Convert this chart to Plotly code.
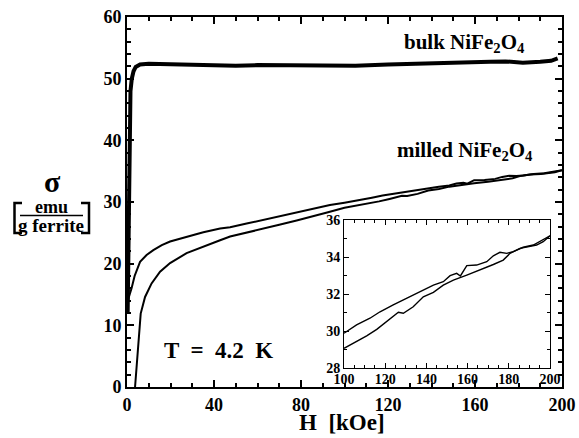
import plotly.graph_objects as go

# ---------------- data ----------------
bulk_H = [0.3, 0.8, 1.1, 1.3, 1.6, 2.2, 3.0, 4.0, 6.0, 10, 20, 30, 40, 50, 60,
          75, 90, 105, 120, 136, 150, 160, 167, 174, 182, 190, 195, 198]
bulk_sigma = [12.0, 30.0, 40.0, 45.0, 48.0, 50.0, 51.2, 51.9, 52.3, 52.4, 52.3, 52.3,
              52.2, 52.1, 52.2, 52.2, 52.1, 52.1, 52.3, 52.4, 52.5, 52.6, 52.75, 52.8,
              52.6, 52.75, 52.9, 53.3]

# milled, upper (descending-field) branch
up_H = [0, 0.8, 2.1, 3.5, 6, 9, 12.1, 16, 19.8, 27.4, 35.1, 42.8, 47.4, 55, 62.7,
        70, 78, 86, 93.3, 100, 106.1, 112.6, 117.5, 123.9, 130.4, 136.9, 143.4,
        148.2, 151.5, 154.7, 156.5, 159.6, 164.4, 169.3, 172.5, 175.7, 179,
        182.2, 187, 191.9, 195.1, 200]
up_sigma = [13.0, 14.5, 16.0, 18.0, 20.3, 21.4, 22.2, 23.0, 23.6, 24.4, 25.1, 25.7,
            25.9, 26.5, 27.1, 27.7, 28.4, 29.0, 29.5, 29.89, 30.34, 30.70, 31.05,
            31.42, 31.78, 32.13, 32.49, 32.67, 33.0, 33.12, 32.98, 33.54, 33.57,
            33.75, 34.07, 34.26, 34.2, 34.29, 34.53, 34.65, 34.83, 35.15]

# milled, lower (virgin / ascending-field) branch
low_H = [3.7, 4.6, 5.2, 6.3, 8.3, 11.3, 15.2, 19.8, 27.4, 35.1, 42.8, 47.4, 55,
         63, 70, 78, 85, 92, 100, 106.1, 111, 115.9, 120.7, 126.4, 128.8, 133.6,
         138.5, 143.4, 148.2, 153.1, 159.6, 166, 172.5, 177.3, 180.6, 185.4,
         190.3, 193.5, 196.7, 200]
low_sigma = [0.0, 4.0, 7.6, 11.9, 14.6, 16.8, 18.7, 20.1, 21.7, 22.8, 23.8, 24.4,
             25.0, 25.7, 26.3, 27.0, 27.6, 28.3, 29.08, 29.44, 29.75, 30.1, 30.5,
             31.02, 30.97, 31.32, 31.86, 32.1, 32.49, 32.76, 33.03, 33.3, 33.6,
             33.84, 34.2, 34.47, 34.56, 34.65, 34.83, 35.15]

main_x_ticks = [0, 40, 80, 120, 160, 200]
main_y_ticks = [0, 10, 20, 30, 40, 50, 60]
inset_x_ticks = [100, 120, 140, 160, 180, 200]
inset_y_ticks = [28, 30, 32, 34, 36]

# inset shows the high-field part of the milled loop
inset_lo = 100
in_up_H = [h for h in up_H if h >= inset_lo]
in_up_s = [s for h, s in zip(up_H, up_sigma) if h >= inset_lo]
in_low_H = [h for h in low_H if h >= inset_lo]
in_low_s = [s for h, s in zip(low_H, low_sigma) if h >= inset_lo]

# ---------------- figure ----------------
W, H = 579, 438
L, R, T, B = 127, 562, 17, 387


def px(xp):
    return (xp - L) / (R - L)


def py(yp):
    return (B - yp) / (B - T)


FONT = "Liberation Serif, Times New Roman, DejaVu Serif, serif"

fig = go.Figure()
fig.add_trace(go.Scatter(x=bulk_H, y=bulk_sigma, mode="lines",
                         line=dict(color="black", width=4), xaxis="x", yaxis="y"))
fig.add_trace(go.Scatter(x=up_H, y=up_sigma, mode="lines",
                         line=dict(color="black", width=2), xaxis="x", yaxis="y"))
fig.add_trace(go.Scatter(x=low_H, y=low_sigma, mode="lines",
                         line=dict(color="black", width=2), xaxis="x", yaxis="y"))
fig.add_trace(go.Scatter(x=in_up_H, y=in_up_s, mode="lines",
                         line=dict(color="black", width=1.4), xaxis="x2", yaxis="y2"))
fig.add_trace(go.Scatter(x=in_low_H, y=in_low_s, mode="lines",
                         line=dict(color="black", width=1.4), xaxis="x2", yaxis="y2"))

axis_common = dict(showline=True, linecolor="black", mirror="ticks", ticks="inside",
                   tickcolor="black", showgrid=False, zeroline=False, automargin=False)

fig.update_layout(
    width=W, height=H,
    margin=dict(l=L, r=W - R, t=T, b=H - B, pad=0),
    paper_bgcolor="white", plot_bgcolor="white",
    showlegend=False,
    font=dict(family=FONT, color="black"),
    xaxis=dict(domain=[0, 1], range=[0, 200], tickvals=main_x_ticks,
               ticklen=7, tickwidth=1.5, linewidth=2,
               minor=dict(dtick=10, ticks="inside", ticklen=4, tickcolor="black"),
               tickfont=dict(family=FONT, size=18, color="black", weight="bold"),
               **axis_common),
    yaxis=dict(domain=[0, 1], range=[0, 60], tickvals=main_y_ticks,
               ticklen=7, tickwidth=1.5, linewidth=2,
               minor=dict(dtick=2, ticks="inside", ticklen=4, tickcolor="black"),
               tickfont=dict(family=FONT, size=18, color="black", weight="bold"),
               **axis_common),
    xaxis2=dict(domain=[px(344), px(550)], range=[100, 200], anchor="y2",
                tickvals=inset_x_ticks, ticklen=5, tickwidth=1, linewidth=1,
                ticklabelstandoff=-2,
                minor=dict(dtick=5, ticks="inside", ticklen=3, tickcolor="black"),
                tickfont=dict(family=FONT, size=14, color="black", weight="bold"),
                **axis_common),
    yaxis2=dict(domain=[py(368.3), py(220)], range=[28, 36], anchor="x2",
                tickvals=inset_y_ticks, ticklen=5, tickwidth=1, linewidth=1,
                minor=dict(dtick=1, ticks="inside", ticklen=3, tickcolor="black"),
                tickfont=dict(family=FONT, size=14, color="black", weight="bold"),
                **axis_common),
)


def label(text, xp, yp, size):
    fig.add_annotation(text=text, x=px(xp), y=py(yp), xref="paper", yref="paper",
                       xanchor="center", yanchor="middle", showarrow=False,
                       font=dict(family=FONT, size=size, color="black", weight="bold"))


label("bulk NiFe<sub>2</sub>O<sub>4</sub>", 464, 43, 21)
label("milled NiFe<sub>2</sub>O<sub>4</sub>", 465, 151, 21)
label("T  =  4.2  K", 218, 350, 23)
label("H  [kOe]", 342, 423, 23)
label("σ", 52, 181, 30)
label("emu", 51, 207, 18)
label("g ferrite", 51, 225, 19)

# fraction bar and brackets
fig.add_shape(type="line", xref="paper", yref="paper",
              x0=px(20), x1=px(83), y0=py(215.5), y1=py(215.5),
              line=dict(color="black", width=1.5))
fig.add_shape(type="path", xref="paper", yref="paper",
              path=f"M {px(22)},{py(203)} L {px(14.5)},{py(203)} L {px(14.5)},{py(233)} L {px(22)},{py(233)}",
              line=dict(color="black", width=2.5))
fig.add_shape(type="path", xref="paper", yref="paper",
              path=f"M {px(81)},{py(203)} L {px(89)},{py(203)} L {px(89)},{py(233)} L {px(81)},{py(233)}",
              line=dict(color="black", width=2.5))

fig.write_html("out.html", config={"displayModeBar": False},
               post_script="document.body.style.margin='0';document.body.style.padding='0';")
